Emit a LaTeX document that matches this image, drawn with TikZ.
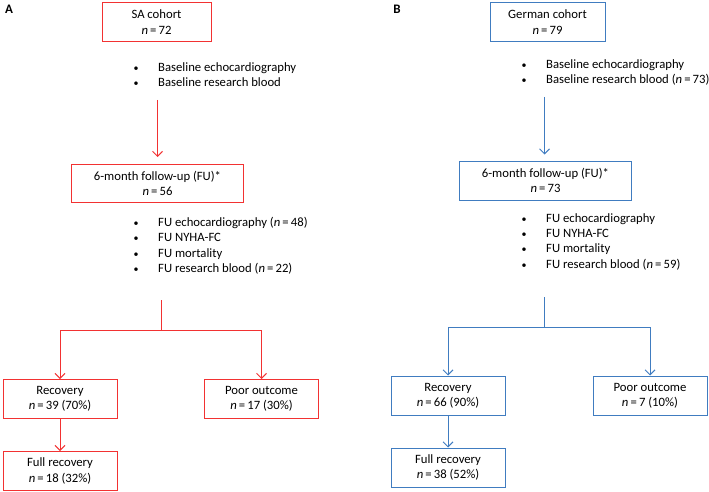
\documentclass[tikz,border=0pt]{standalone}
\usepackage{fontspec}
\setmainfont{Carlito}
\usetikzlibrary{arrows.meta}
\definecolor{saRed}{RGB}{242,50,50}
\definecolor{deBlue}{RGB}{64,124,192}
\newcommand{\nval}{\textit{n}\,=\,}
\newcommand{\blt}{\makebox[24.5pt][l]{\fontsize{10}{10}\selectfont\textbullet}}
\begin{document}
\begin{tikzpicture}[x=1pt,y=-1pt,
  every node/.style={font=\fontsize{12.7}{15.3}\selectfont},
  box/.style={draw, line width=1pt, align=center, inner sep=1pt},
  topbox/.style={box, minimum height=39pt},
  endbox/.style={box, minimum width=114pt, minimum height=39pt},
  bullets/.style={align=left, anchor=north west, inner sep=0pt},
  arr/.style={-{Straight Barb[length=5pt,width=10pt]}, line width=1pt},
  panel/.style={font=\fontsize{13}{13}\selectfont\bfseries}]
\useasboundingbox (0,0) rectangle (709,492);

% panel A: SA cohort
\node[panel] (labA) at (9,9) {A};
\node[topbox, draw=saRed, minimum width=109pt] (saCoh) at (156.5,22) {SA cohort\\\nval 72};
\node[bullets] (saBase) at (133.5,62.5) {\blt Baseline echocardiography\\\blt Baseline research blood};
\node[topbox, draw=saRed, minimum width=172pt, minimum height=38pt] (saFU) at (157.5,183.5) {6-month follow-up (FU)*\\\nval 56};
\node[bullets] (saList) at (133.5,217) {\blt FU echocardiography (\nval 48)\\\blt FU NYHA-FC\\\blt FU mortality\\\blt FU research blood (\nval 22)};
\node[endbox, draw=saRed] (saRec) at (60,399) {Recovery\\\nval 39 (70\%)};
\node[endbox, draw=saRed] (saPoor) at (261.5,399) {Poor outcome\\\nval 17 (30\%)};
\node[endbox, draw=saRed] (saFull) at (60,471) {Full recovery\\\nval 18 (32\%)};
\coordinate (saGo) at (157.5,100);
\coordinate (saSplit) at (161.5,300);
\coordinate (saJoin) at (161.5,330);
\draw[arr, saRed, shorten >=7pt] (saGo) -- (saFU);
\draw[saRed, line width=1pt] (saSplit) -- (saJoin);
\draw[arr, saRed] (saJoin) -| (saRec);
\draw[arr, saRed] (saJoin) -| (saPoor);
\draw[arr, saRed] (saRec) -- (saFull);

% panel B: German cohort
\node[panel] (labB) at (397,9) {B};
\node[topbox, draw=deBlue, minimum width=115pt] (deCoh) at (547.5,22) {German cohort\\\nval 79};
\node[bullets] (deBase) at (521.5,59.2) {\blt Baseline echocardiography\\\blt Baseline research blood (\nval 73)};
\node[topbox, draw=deBlue, minimum width=172pt] (deFU) at (545.5,180.5) {6-month follow-up (FU)*\\\nval 73};
\node[bullets] (deList) at (521.5,213.2) {\blt FU echocardiography\\\blt FU NYHA-FC\\\blt FU mortality\\\blt FU research blood (\nval 59)};
\node[endbox, draw=deBlue] (deRec) at (448,395.5) {Recovery\\\nval 66 (90\%)};
\node[endbox, draw=deBlue] (dePoor) at (650,395.5) {Poor outcome\\\nval 7 (10\%)};
\node[endbox, draw=deBlue] (deFull) at (448,467.5) {Full recovery\\\nval 38 (52\%)};
\coordinate (deGo) at (544.5,97);
\coordinate (deSplit) at (544.5,297);
\coordinate (deJoin) at (544.5,327);
\draw[arr, deBlue, shorten >=6pt] (deGo) -- (deGo |- deFU.north);
\draw[deBlue, line width=1pt] (deSplit) -- (deJoin);
\draw[arr, deBlue] (deJoin) -| (deRec);
\draw[arr, deBlue] (deJoin) -| (dePoor);
\draw[arr, deBlue] (deRec) -- (deFull);
\end{tikzpicture}
\end{document}
